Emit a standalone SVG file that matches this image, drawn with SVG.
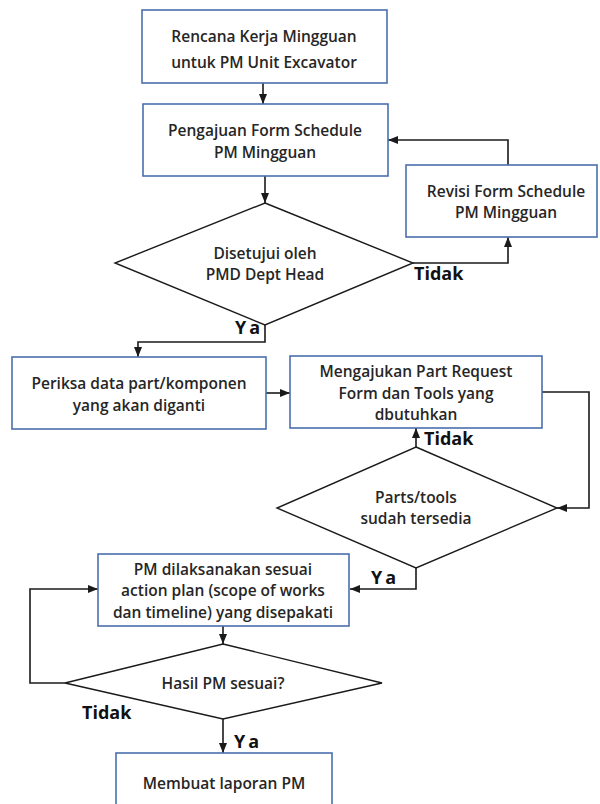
<svg xmlns="http://www.w3.org/2000/svg" width="600" height="804" viewBox="0 0 600 804">
  <defs>
    <marker id="arrow" markerUnits="userSpaceOnUse" markerWidth="10" markerHeight="10" viewBox="0 0 10 10" refX="10" refY="5" orient="auto">
      <path d="M0,1 L10,5 L0,9 Z" fill="#1a1a1a"/>
    </marker>
    <style>
      .box { fill: #ffffff; stroke: #4a6fae; stroke-width: 1.6; }
      .dia { fill: #ffffff; stroke: #1a1a1a; stroke-width: 1.4; }
      .lbl { font-family: "Open Sans", "Noto Sans", sans-serif; font-weight: 600; font-size: 15.5px; fill: #262626; text-anchor: middle; dominant-baseline: central; }
      .tag { font-family: "Open Sans", "Noto Sans", sans-serif; font-weight: 700; font-size: 18px; fill: #111111; dominant-baseline: central; }
      .ya { letter-spacing: 3px; }
      .link { fill: none; stroke: #1a1a1a; stroke-width: 1.6; marker-end: url(#arrow); }
    </style>
  </defs>
  <rect width="600" height="804" fill="#ffffff"/>

  <!-- connectors -->
  <g id="connectors">
    <path class="link" d="M263,83 V104"/>
    <path class="link" d="M265,176 V203"/>
    <path class="link" d="M413,263 H508 V237"/>
    <path class="link" d="M508,165 V140 H388"/>
    <path class="link" d="M265,325 V342 H138 V357"/>
    <path class="link" d="M266,393 H290"/>
    <path class="link" d="M542,392 H589 V508 H557"/>
    <path class="link" d="M416,447 V428"/>
    <path class="link" d="M416,568 V589 H350"/>
    <path class="link" d="M223,626 V644"/>
    <path class="link" d="M65,683 H30 V589 H98"/>
    <path class="link" d="M223,719 V753"/>
    <text class="tag" x="414" y="273">Tidak</text>
    <text class="tag ya" x="235" y="327">Ya</text>
    <text class="tag" x="424" y="438">Tidak</text>
    <text class="tag ya" x="371" y="577">Ya</text>
    <text class="tag" x="82" y="712">Tidak</text>
    <text class="tag ya" x="234" y="741">Ya</text>
  </g>

  <g id="rencana">
    <rect class="box" x="142" y="10" width="245" height="73"/>
    <text class="lbl" x="264" y="36">Rencana Kerja Mingguan</text>
    <text class="lbl" x="264" y="62">untuk PM Unit Excavator</text>
  </g>

  <g id="pengajuan">
    <rect class="box" x="143" y="104" width="245" height="72"/>
    <text class="lbl" x="265" y="130">Pengajuan Form Schedule</text>
    <text class="lbl" x="265" y="152">PM Mingguan</text>
  </g>

  <g id="revisi">
    <rect class="box" x="406" y="165" width="191" height="72"/>
    <text class="lbl" x="506" y="191">Revisi Form Schedule</text>
    <text class="lbl" x="506" y="212">PM Mingguan</text>
  </g>

  <g id="disetujui">
    <polygon class="dia" points="265,203 413,263 265,325 115,263"/>
    <text class="lbl" x="265" y="253">Disetujui oleh</text>
    <text class="lbl" x="265" y="274">PMD Dept Head</text>
  </g>

  <g id="periksa">
    <rect class="box" x="12" y="357" width="254" height="72"/>
    <text class="lbl" x="139" y="383">Periksa data part/komponen</text>
    <text class="lbl" x="139" y="405">yang akan diganti</text>
  </g>

  <g id="mengajukan">
    <rect class="box" x="290" y="356" width="252" height="72"/>
    <text class="lbl" x="416" y="371">Mengajukan Part Request</text>
    <text class="lbl" x="416" y="393">Form dan Tools yang</text>
    <text class="lbl" x="416" y="414">dbutuhkan</text>
  </g>

  <g id="tersedia">
    <polygon class="dia" points="416,447 557,508 416,568 277,508"/>
    <text class="lbl" x="416" y="497">Parts/tools</text>
    <text class="lbl" x="416" y="518">sudah tersedia</text>
  </g>

  <g id="pelaksanaan">
    <rect class="box" x="98" y="554" width="251" height="72"/>
    <text class="lbl" x="223" y="569">PM dilaksanakan sesuai</text>
    <text class="lbl" x="223" y="590">action plan (scope of works</text>
    <text class="lbl" x="223" y="612">dan timeline) yang disepakati</text>
  </g>

  <g id="hasil">
    <polygon class="dia" points="223,644 382,683 223,719 65,683"/>
    <text class="lbl" x="223" y="683">Hasil PM sesuai?</text>
  </g>

  <g id="laporan">
    <rect class="box" x="116" y="753" width="216" height="60"/>
    <text class="lbl" x="224" y="783">Membuat laporan PM</text>
  </g>
</svg>
